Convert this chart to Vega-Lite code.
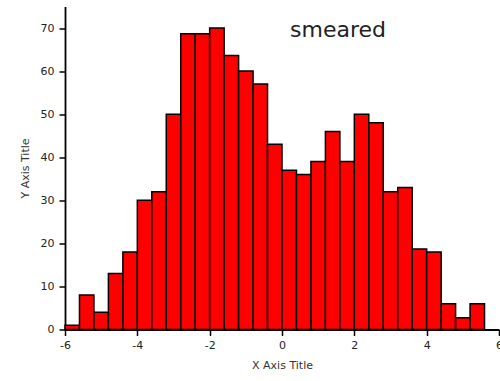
{
  "$schema": "https://vega.github.io/schema/vega-lite/v6.json",
  "width": 434,
  "height": 323,
  "autosize": {"type": "none"},
  "padding": {"left": 65, "top": 6.5, "right": 1, "bottom": 51.5},
  "background": "white",
  "config": {"view": {"stroke": null}, "font": "DejaVu Sans"},
  "layer": [
    {
      "data": {"values": [
        {"bin_start": -6.0, "bin_end": -5.6, "count": 1},
        {"bin_start": -5.6, "bin_end": -5.2, "count": 8},
        {"bin_start": -5.2, "bin_end": -4.8, "count": 4},
        {"bin_start": -4.8, "bin_end": -4.4, "count": 13},
        {"bin_start": -4.4, "bin_end": -4.0, "count": 18},
        {"bin_start": -4.0, "bin_end": -3.6, "count": 30},
        {"bin_start": -3.6, "bin_end": -3.2, "count": 32},
        {"bin_start": -3.2, "bin_end": -2.8, "count": 50},
        {"bin_start": -2.8, "bin_end": -2.4, "count": 68.7},
        {"bin_start": -2.4, "bin_end": -2.0, "count": 68.7},
        {"bin_start": -2.0, "bin_end": -1.6, "count": 70},
        {"bin_start": -1.6, "bin_end": -1.2, "count": 63.6},
        {"bin_start": -1.2, "bin_end": -0.8, "count": 60},
        {"bin_start": -0.8, "bin_end": -0.4, "count": 57},
        {"bin_start": -0.4, "bin_end": 0.0, "count": 43},
        {"bin_start": 0.0, "bin_end": 0.4, "count": 37},
        {"bin_start": 0.4, "bin_end": 0.8, "count": 36},
        {"bin_start": 0.8, "bin_end": 1.2, "count": 39},
        {"bin_start": 1.2, "bin_end": 1.6, "count": 46},
        {"bin_start": 1.6, "bin_end": 2.0, "count": 39},
        {"bin_start": 2.0, "bin_end": 2.4, "count": 50},
        {"bin_start": 2.4, "bin_end": 2.8, "count": 48},
        {"bin_start": 2.8, "bin_end": 3.2, "count": 32},
        {"bin_start": 3.2, "bin_end": 3.6, "count": 33},
        {"bin_start": 3.6, "bin_end": 4.0, "count": 18.7},
        {"bin_start": 4.0, "bin_end": 4.4, "count": 18},
        {"bin_start": 4.4, "bin_end": 4.8, "count": 6},
        {"bin_start": 4.8, "bin_end": 5.2, "count": 2.7},
        {"bin_start": 5.2, "bin_end": 5.6, "count": 6}
      ]},
      "mark": {"type": "rect", "fill": "#ff0000", "stroke": "#000000", "strokeWidth": 1.5},
      "encoding": {
        "x": {
          "field": "bin_start", "type": "quantitative",
          "scale": {"domain": [-6, 6], "nice": false, "zero": false},
          "axis": {
            "values": [-6, -5, -4, -3, -2, -1, 0, 1, 2, 3, 4, 5, 6],
            "labelExpr": "datum.value % 2 == 0 ? '' + datum.value : ''",
            "tickSize": {"condition": {"test": "datum.value % 2 != 0", "value": 3}, "value": 6},
            "tickColor": "#000", "tickWidth": 1.5,
            "domainColor": "#000", "domainWidth": 1.8,
            "grid": false,
            "labelFontSize": 11, "labelColor": "#222", "labelPadding": 4, "labelFlush": false,
            "title": "X Axis Title", "titleFontSize": 11, "titleFontWeight": "normal", "titleColor": "#333", "titlePadding": 9
          }
        },
        "x2": {"field": "bin_end"},
        "y": {
          "field": "count", "type": "quantitative",
          "scale": {"domain": [0, 75], "nice": false},
          "axis": {
            "values": [0, 5, 10, 15, 20, 25, 30, 35, 40, 45, 50, 55, 60, 65, 70],
            "labelExpr": "datum.value % 10 == 0 ? '' + datum.value : ''",
            "tickSize": {"condition": {"test": "datum.value % 10 != 0", "value": 3}, "value": 6},
            "tickColor": "#000", "tickWidth": 1.5,
            "domainColor": "#000", "domainWidth": 1.8,
            "grid": false,
            "labelFontSize": 11, "labelColor": "#222", "labelPadding": 5, "labelFlush": false,
            "title": "Y Axis Title", "titleFontSize": 11, "titleFontWeight": "normal", "titleColor": "#333", "titlePadding": 10
          }
        },
        "y2": {"datum": 0}
      }
    },
    {
      "data": {"values": [{"x": 1.55, "y": 69.5, "label": "smeared"}]},
      "mark": {"type": "text", "fontSize": 22, "font": "DejaVu Sans", "color": "#222", "align": "center", "baseline": "middle"},
      "encoding": {
        "x": {"field": "x", "type": "quantitative"},
        "y": {"field": "y", "type": "quantitative"},
        "text": {"field": "label"}
      }
    }
  ]
}
